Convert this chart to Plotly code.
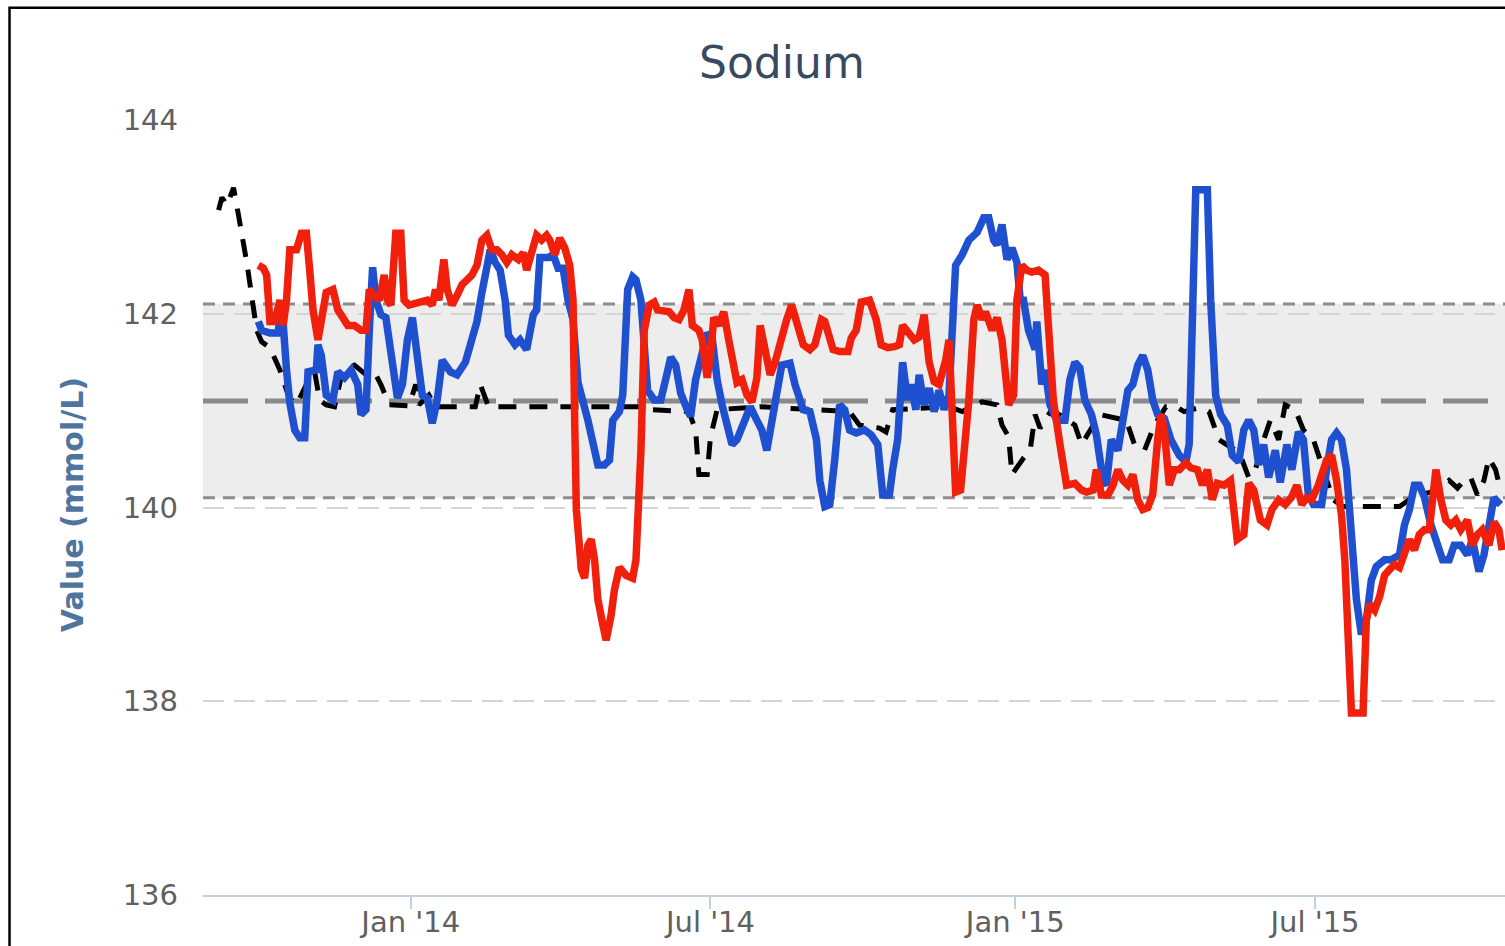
import plotly.graph_objects as go

# ---- reference range (mmol/L) ----
BAND_LOW = 140.1
BAND_HIGH = 142.1
BAND_MEAN = 141.1

Y_TICKS = [136, 138, 140, 142, 144]
X_START = "2013-08-28 14:00"
X_END = "2015-10-23 17:00"

# ---- dashed black series ----
black_dates = [
    "2013-09-07", "2013-09-09", "2013-09-12", "2013-09-16", "2013-09-19", "2013-09-21",
    "2013-09-24", "2013-09-26", "2013-09-28", "2013-09-30", "2013-10-03", "2013-10-08",
    "2013-10-14", "2013-10-19", "2013-10-23", "2013-10-26", "2013-10-30", "2013-11-04",
    "2013-11-07", "2013-11-11", "2013-11-16", "2013-11-21", "2013-11-28", "2013-12-05",
    "2013-12-10", "2013-12-14", "2013-12-19", "2013-12-31", "2014-01-04", "2014-01-06",
    "2014-01-12", "2014-01-16", "2014-02-09", "2014-02-12", "2014-02-17", "2014-05-19",
    "2014-05-25", "2014-06-18", "2014-06-22", "2014-06-24", "2014-06-29", "2014-07-01",
    "2014-07-05", "2014-07-31", "2014-09-23", "2014-09-29", "2014-10-11", "2014-10-15",
    "2014-10-19", "2014-11-22", "2014-11-30", "2014-12-12", "2014-12-21", "2014-12-24",
    "2014-12-28", "2014-12-30", "2015-01-06", "2015-01-10", "2015-01-13", "2015-01-16",
    "2015-01-23", "2015-02-06", "2015-02-10", "2015-02-15", "2015-02-21", "2015-03-09",
    "2015-03-14", "2015-03-20", "2015-03-26", "2015-04-02", "2015-04-08", "2015-04-13",
    "2015-04-22", "2015-04-28", "2015-05-04", "2015-05-14", "2015-05-18", "2015-05-22",
    "2015-05-26", "2015-05-31", "2015-06-04", "2015-06-09", "2015-06-13", "2015-06-19",
    "2015-06-24", "2015-06-30", "2015-07-06", "2015-07-12", "2015-07-18", "2015-08-21",
    "2015-08-27", "2015-09-02", "2015-09-14", "2015-09-20", "2015-09-25", "2015-09-29",
    "2015-10-03", "2015-10-07", "2015-10-11", "2015-10-14", "2015-10-18", "2015-10-21",
]
black_values = [
    143.07, 143.20, 143.12, 143.30, 143.02, 142.84,
    142.53, 142.30, 142.09, 141.83, 141.71, 141.65,
    141.42, 141.16, 141.06, 141.13, 141.27, 141.40,
    141.11, 141.06, 141.04, 141.42, 141.47, 141.37,
    141.40, 141.27, 141.06, 141.05, 141.27, 141.06,
    141.16, 141.04, 141.04, 141.27, 141.04, 141.04,
    141.01, 140.99, 140.80, 140.34, 140.34, 140.73,
    141.01, 141.04, 140.99, 140.85, 140.82, 140.78,
    141.01, 141.04, 140.99, 141.09, 141.06, 140.85,
    140.73, 140.34, 140.51, 140.59, 140.96, 140.82,
    141.01, 140.85, 140.65, 140.80, 140.96, 140.90,
    140.65, 140.59, 140.85, 141.04, 141.04, 140.99,
    141.03, 140.99, 140.70, 140.59, 140.49, 140.31,
    140.39, 140.70, 140.90, 140.70, 141.06, 141.01,
    140.80, 140.70, 140.39, 140.08, 140.01, 140.01,
    140.08, 140.13, 140.18, 140.28, 140.20, 140.28,
    140.31, 140.13, 140.28, 140.51, 140.39, 140.18,
]

# ---- blue series ----
blue_dates = [
    "2013-10-01", "2013-10-03", "2013-10-08", "2013-10-13", "2013-10-15", "2013-10-16",
    "2013-10-18", "2013-10-20", "2013-10-23", "2013-10-26", "2013-10-29", "2013-10-31",
    "2013-11-05", "2013-11-06", "2013-11-08", "2013-11-11", "2013-11-15", "2013-11-18",
    "2013-11-22", "2013-11-26", "2013-11-30", "2013-12-02", "2013-12-05", "2013-12-07",
    "2013-12-09", "2013-12-11", "2013-12-14", "2013-12-17", "2013-12-20", "2013-12-24",
    "2013-12-27", "2013-12-30", "2014-01-02", "2014-01-05", "2014-01-08", "2014-01-11",
    "2014-01-14", "2014-01-17", "2014-01-20", "2014-01-25", "2014-01-29", "2014-02-03",
    "2014-02-07", "2014-02-10", "2014-02-13", "2014-02-18", "2014-02-21", "2014-02-24",
    "2014-02-27", "2014-03-01", "2014-03-05", "2014-03-08", "2014-03-12", "2014-03-16",
    "2014-03-18", "2014-03-20", "2014-03-25", "2014-03-28", "2014-03-31", "2014-04-03",
    "2014-04-06", "2014-04-09", "2014-04-12", "2014-04-15", "2014-04-18", "2014-04-21",
    "2014-04-24", "2014-04-28", "2014-05-01", "2014-05-03", "2014-05-07", "2014-05-09",
    "2014-05-12", "2014-05-15", "2014-05-17", "2014-05-20", "2014-05-22", "2014-05-24",
    "2014-05-28", "2014-06-01", "2014-06-05", "2014-06-07", "2014-06-10", "2014-06-13",
    "2014-06-17", "2014-06-19", "2014-06-22", "2014-06-26", "2014-06-29", "2014-07-02",
    "2014-07-05", "2014-07-08", "2014-07-11", "2014-07-14", "2014-07-17", "2014-07-21",
    "2014-07-25", "2014-07-29", "2014-08-01", "2014-08-04", "2014-08-07", "2014-08-10",
    "2014-08-13", "2014-08-18", "2014-08-21", "2014-08-26", "2014-08-30", "2014-09-03",
    "2014-09-05", "2014-09-08", "2014-09-11", "2014-09-14", "2014-09-17", "2014-09-20",
    "2014-09-23", "2014-09-27", "2014-10-02", "2014-10-06", "2014-10-10", "2014-10-13",
    "2014-10-17", "2014-10-19", "2014-10-22", "2014-10-25", "2014-10-28", "2014-10-30",
    "2014-11-02", "2014-11-04", "2014-11-07", "2014-11-10", "2014-11-13", "2014-11-16",
    "2014-11-19", "2014-11-22", "2014-11-24", "2014-11-26", "2014-11-30", "2014-12-04",
    "2014-12-09", "2014-12-13", "2014-12-16", "2014-12-19", "2014-12-21", "2014-12-24",
    "2014-12-27", "2014-12-30", "2015-01-02", "2015-01-04", "2015-01-06", "2015-01-09",
    "2015-01-13", "2015-01-14", "2015-01-17", "2015-01-19", "2015-01-22", "2015-01-26",
    "2015-01-31", "2015-02-03", "2015-02-06", "2015-02-09", "2015-02-12", "2015-02-16",
    "2015-02-19", "2015-02-23", "2015-02-25", "2015-02-28", "2015-03-04", "2015-03-07",
    "2015-03-10", "2015-03-13", "2015-03-16", "2015-03-19", "2015-03-22", "2015-03-25",
    "2015-03-28", "2015-04-01", "2015-04-05", "2015-04-10", "2015-04-14", "2015-04-16",
    "2015-04-18", "2015-04-20", "2015-04-27", "2015-04-29", "2015-05-02", "2015-05-05",
    "2015-05-09", "2015-05-12", "2015-05-16", "2015-05-19", "2015-05-22", "2015-05-25",
    "2015-05-28", "2015-05-31", "2015-06-03", "2015-06-07", "2015-06-10", "2015-06-14",
    "2015-06-17", "2015-06-21", "2015-06-24", "2015-06-27", "2015-06-30", "2015-07-05",
    "2015-07-08", "2015-07-11", "2015-07-14", "2015-07-17", "2015-07-20", "2015-07-23",
    "2015-07-26", "2015-07-29", "2015-08-01", "2015-08-04", "2015-08-07", "2015-08-12",
    "2015-08-16", "2015-08-21", "2015-08-24", "2015-08-27", "2015-08-30", "2015-09-02",
    "2015-09-05", "2015-09-09", "2015-09-13", "2015-09-16", "2015-09-20", "2015-09-23",
    "2015-09-27", "2015-10-01", "2015-10-04", "2015-10-08", "2015-10-11", "2015-10-14",
    "2015-10-17", "2015-10-21",
]
blue_values = [
    141.92, 141.83, 141.80, 141.80, 142.14, 141.78,
    141.42, 141.08, 140.80, 140.72, 140.72, 141.40,
    141.42, 141.68, 141.57, 141.16, 141.11, 141.40,
    141.34, 141.42, 141.27, 140.96, 141.01, 141.83,
    142.48, 142.14, 141.99, 141.96, 141.63, 141.13,
    141.27, 141.73, 141.96, 141.52, 141.16, 141.13,
    140.87, 141.11, 141.52, 141.40, 141.37, 141.50,
    141.73, 141.92, 142.22, 142.66, 142.53, 142.45,
    142.14, 141.78, 141.68, 141.73, 141.63, 141.99,
    142.04, 142.58, 142.58, 142.61, 142.47, 142.47,
    142.14, 141.94, 141.29, 141.11, 140.90, 140.67,
    140.44, 140.44, 140.49, 140.90, 140.99, 141.16,
    142.25, 142.38, 142.35, 142.14, 141.57, 141.21,
    141.11, 141.11, 141.40, 141.55, 141.47, 141.18,
    141.01, 140.94, 141.32, 141.57, 141.80, 141.75,
    141.32, 141.06, 140.85, 140.65, 140.70, 140.90,
    141.04, 140.90, 140.80, 140.59, 140.90, 141.11,
    141.47, 141.49, 141.27, 141.01, 140.99, 140.70,
    140.28, 140.01, 140.03, 140.49, 141.06, 141.01,
    140.80, 140.77, 140.80, 140.75, 140.65, 140.13,
    140.13, 140.39, 140.70, 141.50, 141.11, 141.27,
    141.01, 141.37, 141.06, 141.23, 140.99, 141.21,
    141.01, 141.16, 141.94, 142.50, 142.61, 142.76,
    142.84, 142.99, 142.99, 142.76, 142.71, 142.92,
    142.56, 142.68, 142.53, 142.14, 142.14, 141.83,
    141.63, 141.92, 141.27, 141.42, 141.06, 140.90,
    140.90, 141.32, 141.50, 141.44, 141.11, 140.96,
    140.75, 140.28, 140.23, 140.70, 140.59, 140.90,
    141.21, 141.27, 141.47, 141.57, 141.42, 141.11,
    140.96, 140.92, 140.70, 140.54, 140.47, 140.65,
    142.14, 143.28, 143.28, 142.14, 141.16, 140.96,
    140.85, 140.54, 140.47, 140.80, 140.90, 140.80,
    140.44, 140.65, 140.31, 140.59, 140.26, 140.65,
    140.39, 140.78, 140.70, 140.13, 140.03, 140.03,
    140.39, 140.70, 140.77, 140.70, 140.39, 139.77,
    139.05, 138.69, 138.84, 139.25, 139.39, 139.46,
    139.46, 139.51, 139.82, 139.98, 140.23, 140.23,
    140.11, 139.82, 139.61, 139.46, 139.46, 139.61,
    139.61, 139.51, 139.67, 139.34, 139.51, 139.87,
    140.10, 140.03,
]

# ---- red series ----
red_dates = [
    "2013-10-01", "2013-10-04", "2013-10-06", "2013-10-08", "2013-10-11", "2013-10-14",
    "2013-10-16", "2013-10-18", "2013-10-20", "2013-10-24", "2013-10-27", "2013-10-30",
    "2013-11-01", "2013-11-03", "2013-11-06", "2013-11-08", "2013-11-11", "2013-11-15",
    "2013-11-18", "2013-11-21", "2013-11-24", "2013-11-28", "2013-12-02", "2013-12-05",
    "2013-12-07", "2013-12-10", "2013-12-13", "2013-12-16", "2013-12-18", "2013-12-20",
    "2013-12-23", "2013-12-26", "2013-12-28", "2013-12-31", "2014-01-06", "2014-01-11",
    "2014-01-14", "2014-01-16", "2014-01-18", "2014-01-21", "2014-01-23", "2014-01-26",
    "2014-01-29", "2014-02-01", "2014-02-04", "2014-02-07", "2014-02-10", "2014-02-13",
    "2014-02-16", "2014-02-19", "2014-02-22", "2014-02-25", "2014-02-28", "2014-03-03",
    "2014-03-07", "2014-03-10", "2014-03-12", "2014-03-15", "2014-03-18", "2014-03-21",
    "2014-03-24", "2014-03-26", "2014-03-29", "2014-04-01", "2014-04-04", "2014-04-07",
    "2014-04-09", "2014-04-10", "2014-04-11", "2014-04-14", "2014-04-16", "2014-04-18",
    "2014-04-20", "2014-04-22", "2014-04-24", "2014-04-27", "2014-04-29", "2014-05-02",
    "2014-05-04", "2014-05-07", "2014-05-11", "2014-05-15", "2014-05-17", "2014-05-20",
    "2014-05-22", "2014-05-25", "2014-05-28", "2014-05-30", "2014-06-03", "2014-06-06",
    "2014-06-09", "2014-06-12", "2014-06-15", "2014-06-18", "2014-06-20", "2014-06-24",
    "2014-06-26", "2014-06-29", "2014-07-01", "2014-07-03", "2014-07-06", "2014-07-09",
    "2014-07-12", "2014-07-14", "2014-07-17", "2014-07-20", "2014-07-23", "2014-07-26",
    "2014-07-29", "2014-07-31", "2014-08-03", "2014-08-06", "2014-08-09", "2014-08-13",
    "2014-08-16", "2014-08-19", "2014-08-22", "2014-08-26", "2014-08-30", "2014-09-02",
    "2014-09-06", "2014-09-08", "2014-09-13", "2014-09-17", "2014-09-22", "2014-09-24",
    "2014-09-27", "2014-09-30", "2014-10-05", "2014-10-09", "2014-10-12", "2014-10-16",
    "2014-10-20", "2014-10-23", "2014-10-25", "2014-10-28", "2014-11-01", "2014-11-04",
    "2014-11-07", "2014-11-10", "2014-11-13", "2014-11-16", "2014-11-20", "2014-11-22",
    "2014-11-24", "2014-11-26", "2014-11-29", "2014-12-01", "2014-12-04", "2014-12-07",
    "2014-12-09", "2014-12-12", "2014-12-14", "2014-12-18", "2014-12-21", "2014-12-24",
    "2014-12-26", "2014-12-28", "2014-12-31", "2015-01-02", "2015-01-05", "2015-01-08",
    "2015-01-11", "2015-01-15", "2015-01-19", "2015-01-21", "2015-01-24", "2015-01-28",
    "2015-01-30", "2015-02-01", "2015-02-06", "2015-02-10", "2015-02-13", "2015-02-17",
    "2015-02-19", "2015-02-22", "2015-02-26", "2015-03-01", "2015-03-04", "2015-03-07",
    "2015-03-10", "2015-03-13", "2015-03-16", "2015-03-19", "2015-03-22", "2015-03-25",
    "2015-03-28", "2015-03-30", "2015-04-01", "2015-04-04", "2015-04-07", "2015-04-10",
    "2015-04-14", "2015-04-17", "2015-04-21", "2015-04-24", "2015-04-27", "2015-04-30",
    "2015-05-03", "2015-05-07", "2015-05-11", "2015-05-15", "2015-05-19", "2015-05-22",
    "2015-05-25", "2015-05-29", "2015-06-02", "2015-06-05", "2015-06-09", "2015-06-13",
    "2015-06-17", "2015-06-20", "2015-06-23", "2015-06-26", "2015-06-29", "2015-07-03",
    "2015-07-08", "2015-07-11", "2015-07-14", "2015-07-17", "2015-07-19", "2015-07-21",
    "2015-07-23", "2015-07-30", "2015-08-01", "2015-08-03", "2015-08-06", "2015-08-09",
    "2015-08-12", "2015-08-15", "2015-08-18", "2015-08-21", "2015-08-24", "2015-08-27",
    "2015-08-30", "2015-09-02", "2015-09-05", "2015-09-08", "2015-09-10", "2015-09-12",
    "2015-09-15", "2015-09-18", "2015-09-21", "2015-09-24", "2015-09-27", "2015-10-01",
    "2015-10-04", "2015-10-07", "2015-10-10", "2015-10-14", "2015-10-17", "2015-10-20",
    "2015-10-22",
]
red_values = [
    142.50, 142.47, 142.40, 141.92, 141.92, 142.14,
    141.88, 142.14, 142.66, 142.66, 142.83, 142.83,
    142.45, 142.04, 141.73, 141.94, 142.22, 142.25,
    142.04, 141.96, 141.88, 141.88, 141.83, 141.83,
    142.25, 142.19, 142.14, 142.40, 142.14, 142.09,
    142.83, 142.83, 142.14, 142.09, 142.12, 142.14,
    142.09, 142.25, 142.14, 142.56, 142.25, 142.09,
    142.19, 142.30, 142.35, 142.40, 142.50, 142.76,
    142.81, 142.66, 142.66, 142.61, 142.53, 142.61,
    142.56, 142.63, 142.45, 142.64, 142.81, 142.76,
    142.81, 142.76, 142.61, 142.78, 142.68, 142.50,
    142.14, 140.90, 139.98, 139.36, 139.27, 139.61,
    139.67, 139.46, 139.05, 138.79, 138.63, 138.89,
    139.15, 139.38, 139.30, 139.27, 139.46, 140.59,
    141.83, 142.09, 142.12, 142.04, 142.02, 142.02,
    141.96, 141.94, 142.04, 142.25, 141.88, 141.83,
    141.73, 141.34, 141.57, 141.96, 141.88, 142.02,
    141.73, 141.52, 141.29, 141.32, 141.16, 141.09,
    141.34, 141.88, 141.63, 141.37, 141.50, 141.78,
    141.94, 142.09, 141.88, 141.68, 141.63, 141.68,
    141.94, 141.92, 141.63, 141.61, 141.61, 141.75,
    141.83, 142.12, 142.14, 141.94, 141.68, 141.65,
    141.66, 141.68, 141.88, 141.81, 141.73, 141.76,
    141.99, 141.50, 141.30, 141.27, 141.52, 141.73,
    140.90, 140.16, 140.18, 140.54, 141.11, 141.94,
    142.09, 141.94, 142.02, 141.83, 141.96, 141.73,
    141.27, 141.06, 141.16, 142.14, 142.50, 142.45,
    142.43, 142.45, 142.40, 141.83, 141.11, 140.65,
    140.39, 140.23, 140.25, 140.18, 140.16, 140.18,
    140.39, 140.13, 140.13, 140.23, 140.39, 140.28,
    140.23, 140.34, 140.08, 139.98, 140.00, 140.13,
    140.70, 140.96, 140.80, 140.23, 140.39, 140.39,
    140.46, 140.41, 140.39, 140.23, 140.39, 140.08,
    140.25, 140.23, 140.28, 139.67, 139.72, 140.25,
    140.18, 139.87, 139.82, 139.98, 140.08, 140.03,
    140.11, 140.23, 140.03, 140.10, 140.08, 140.23,
    140.49, 140.54, 140.28, 139.92, 139.46, 138.63,
    137.88, 137.88, 138.84, 139.00, 138.94, 139.08,
    139.30, 139.36, 139.41, 139.38, 139.51, 139.67,
    139.56, 139.72, 139.77, 139.77, 140.08, 140.39,
    140.08, 139.87, 139.82, 139.87, 139.77, 139.87,
    139.61, 139.72, 139.77, 139.61, 139.85, 139.77,
    139.56,
]

FONT = "DejaVu Sans"
LABEL_GREY = "#606060"
AXIS_LINE = "#c0d0e0"

fig = go.Figure()

fig.add_trace(go.Scatter(
    x=black_dates, y=black_values, mode="lines",
    line=dict(color="#000000", width=5, dash="18px,13px"),
    hoverinfo="skip",
))
fig.add_trace(go.Scatter(
    x=blue_dates, y=blue_values, mode="lines",
    line=dict(color="#1f50cf", width=7.5),
    hoverinfo="skip",
))
fig.add_trace(go.Scatter(
    x=red_dates, y=red_values, mode="lines",
    line=dict(color="#f0200c", width=7.5),
    hoverinfo="skip",
))

# reference band, its dashed limits and the long-dash mean line
fig.add_shape(type="rect", xref="paper", x0=0, x1=1, yref="y",
              y0=BAND_LOW, y1=BAND_HIGH, fillcolor="#ededed",
              line=dict(width=0), layer="below")
for lim in (BAND_LOW, BAND_HIGH):
    fig.add_shape(type="line", xref="paper", x0=0, x1=1, yref="y",
                  y0=lim, y1=lim, layer="below",
                  line=dict(color="#8c8c8c", width=3, dash="12px,8px"))
fig.add_shape(type="line", xref="paper", x0=0, x1=1, yref="y",
              y0=BAND_MEAN, y1=BAND_MEAN, layer="below",
              line=dict(color="#8a8a8a", width=5, dash="45px,17px"))

# thin black frame around the whole chart
fig.add_shape(type="rect", xref="paper", yref="paper",
              x0=-0.1486, x1=1.2, y0=-0.2, y1=1.1449,
              line=dict(color="#000000", width=2.5), fillcolor="rgba(0,0,0,0)")

fig.add_annotation(text="Sodium", xref="paper", yref="paper",
                   x=0.4447, y=1.0748, xanchor="center", yanchor="middle",
                   showarrow=False, font=dict(family=FONT, size=44, color="#3a4a5e"))
fig.add_annotation(text="<b>Value (mmol/L)</b>", xref="paper", yref="paper",
                   x=-0.1006, y=0.503, xanchor="center", yanchor="middle",
                   textangle=-90, showarrow=False,
                   font=dict(family=FONT, size=30, color="#4d759e"))

fig.update_xaxes(
    type="date", range=[X_START, X_END],
    tick0="2014-01-01", dtick="M6", tickformat="%b '%y",
    showgrid=False, zeroline=False,
    showline=True, linecolor=AXIS_LINE, linewidth=2,
    ticks="outside", ticklen=12, tickwidth=2, tickcolor=AXIS_LINE,
    ticklabelstandoff=-12,
    tickfont=dict(family=FONT, size=29, color=LABEL_GREY),
)
fig.update_yaxes(
    range=[136, 144], tickvals=Y_TICKS,
    showgrid=True, gridcolor="#d4d4d4", gridwidth=2, griddash="21px,10px",
    zeroline=False, showline=False, ticks="",
    ticklabelstandoff=24,
    tickfont=dict(family=FONT, size=29, color=LABEL_GREY),
)
fig.update_layout(
    width=1505, height=946,
    margin=dict(l=203, r=0, t=120, b=51),
    paper_bgcolor="white", plot_bgcolor="white",
    showlegend=False, hovermode=False,
    font=dict(family=FONT),
)

fig.write_html("out.html")
